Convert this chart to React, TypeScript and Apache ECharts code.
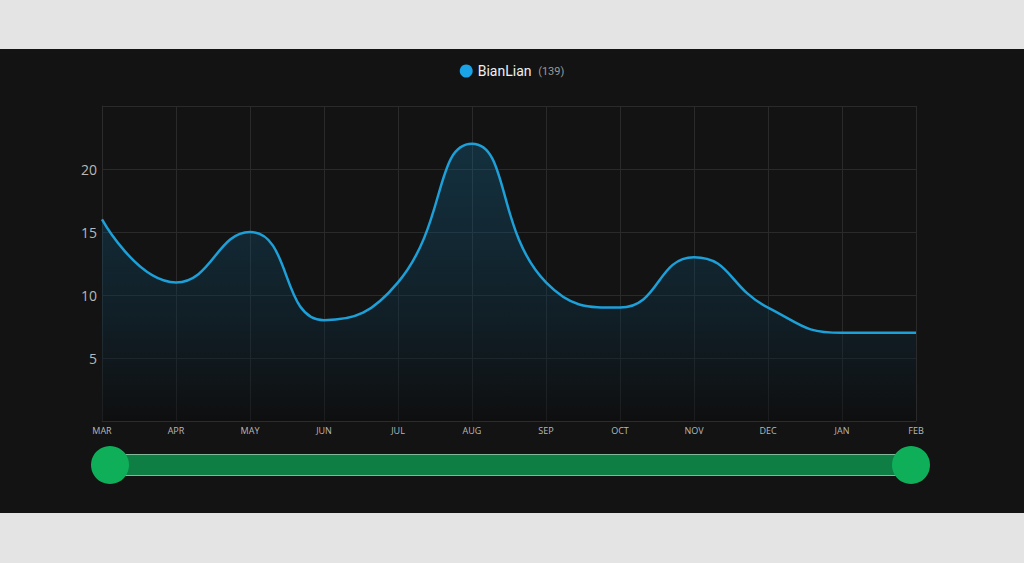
import React, { useEffect, useRef } from "react";
import * as echarts from "echarts";

const categories = ["MAR", "APR", "MAY", "JUN", "JUL", "AUG", "SEP", "OCT", "NOV", "DEC", "JAN", "FEB"];
const values = [16, 11, 15, 8, 11, 22, 11, 9, 13, 9, 7, 7];
const seriesName = "BianLian";
const total = 139;

export default function App() {
  const ref = useRef<HTMLDivElement>(null);
  useEffect(() => {
    if (!ref.current) return;
    const chart = echarts.init(ref.current, null, { renderer: "svg" });
    chart.setOption({
      animation: false,
      backgroundColor: "#131313",
      legend: {
        top: 10,
        left: "center",
        icon: "circle",
        itemWidth: 13,
        itemHeight: 13,
        itemGap: 6,
        data: [seriesName],
        formatter: (name: string) => `{n|${name}}  {c|(${total})}`,
        textStyle: {
          rich: {
            n: { color: "#f0f0f0", fontSize: 14, fontFamily: "Roboto" },
            c: { color: "#9a9a9a", fontSize: 11, fontFamily: "Roboto" },
          },
        },
      },
      grid: { left: 102, right: 108, top: 57, bottom: 92 },
      xAxis: {
        type: "category",
        boundaryGap: false,
        data: categories,
        axisLine: { show: true, lineStyle: { color: "#2c2c2c" } },
        axisTick: { show: false },
        axisLabel: { color: "#b8b8b8", fontSize: 9, margin: 5, fontFamily: "Open Sans" },
        splitLine: { show: true, lineStyle: { color: "#2a2a2a", width: 1 } },
      },
      yAxis: {
        type: "value",
        min: 0,
        max: 25,
        interval: 5,
        axisLine: { show: true, lineStyle: { color: "#2c2c2c" } },
        axisTick: { show: false },
        axisLabel: {
          color: "#b8b8b8",
          fontSize: 14,
          margin: 5,
          fontFamily: "Open Sans",
          showMinLabel: false,
          showMaxLabel: false,
        },
        splitLine: { show: true, lineStyle: { color: "#2a2a2a", width: 1 } },
      },
      dataZoom: [
        {
          type: "slider",
          xAxisIndex: 0,
          start: 0,
          end: 100,
          left: 108,
          right: 113,
          top: 405,
          height: 22,
          showDetail: false,
          showDataShadow: false,
          brushSelect: false,
          backgroundColor: "rgba(0,0,0,0)",
          fillerColor: "#0e7e45",
          borderColor: "#7fb99a",
          handleIcon: "circle",
          handleSize: 38,
          handleStyle: { color: "#0faf5a", borderColor: "#0faf5a", borderWidth: 0 },
          moveHandleSize: 0,
          dataBackground: { lineStyle: { opacity: 0 }, areaStyle: { opacity: 0 } },
          selectedDataBackground: { lineStyle: { opacity: 0 }, areaStyle: { opacity: 0 } },
        },
      ],
      series: [
        {
          name: seriesName,
          type: "line",
          smooth: true,
          data: values,
          symbol: "none",
          itemStyle: { color: "#1aa3e6" },
          lineStyle: { color: "#1d9fd8", width: 2.5 },
          areaStyle: {
            color: new echarts.graphic.LinearGradient(0, 0, 0, 1, [
              { offset: 0, color: "rgba(20,120,170,0.4)" },
              { offset: 1, color: "rgba(8,8,10,0.6)" },
            ]),
          },
        },
      ],
    });
    return () => chart.dispose();
  }, []);
  return (
    <div style={{ position: "fixed", inset: 0, background: "#e4e4e4" }}>
      <div style={{ position: "absolute", left: 0, top: 49, width: 1024, height: 464 }}>
        <div ref={ref} style={{ width: 1024, height: 464 }} />
      </div>
    </div>
  );
}
